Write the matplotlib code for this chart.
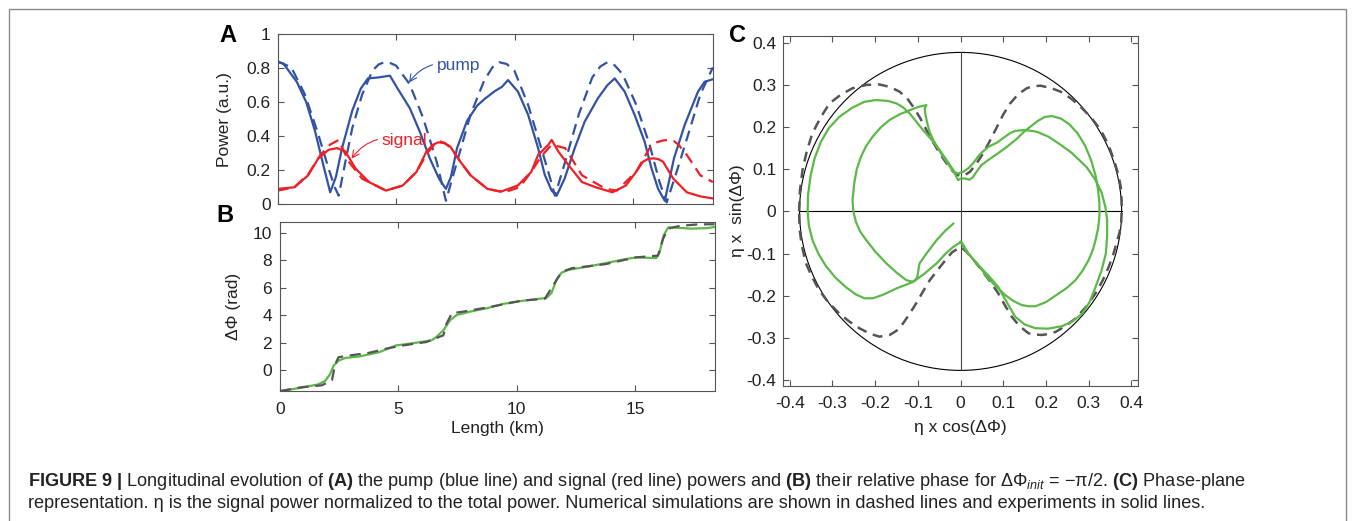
import numpy as np
import matplotlib
matplotlib.use("Agg")
import matplotlib.pyplot as plt
from matplotlib import patches
from matplotlib.ticker import FuncFormatter

plt.rcParams['font.family'] = ['Liberation Sans', 'DejaVu Sans']
plt.rcParams['mathtext.fontset'] = 'custom'
plt.rcParams['mathtext.rm'] = 'Liberation Sans'
plt.rcParams['mathtext.it'] = 'Liberation Sans:italic'
plt.rcParams['mathtext.bf'] = 'Liberation Sans:bold'

# ---- panel A: pump / signal power vs length (km) ----
pump_exp_km = [0, 0.23, 0.8, 1.2, 1.57, 1.92, 2.21, 2.45, 2.71, 3.14, 3.5, 3.8, 4.2, 4.73, 5.01,
               5.57, 5.99, 6.41, 6.8, 7.09, 7.3, 7.56, 7.98, 8.41, 8.73, 9.15, 9.45, 9.71, 10.13, 10.56,
               10.98, 11.26, 11.55, 11.76, 12.1, 12.52, 12.94, 13.5, 13.9, 14.21, 14.63, 15.05, 15.47,
               15.76, 16.04, 16.32, 16.71, 17.16, 17.72, 18.0, 18.35]
pump_exp = [0.835, 0.828, 0.72, 0.6, 0.43, 0.23, 0.07, 0.16, 0.33, 0.55, 0.68, 0.74, 0.745, 0.756, 0.69,
            0.564, 0.426, 0.27, 0.15, 0.09, 0.16, 0.33, 0.49, 0.58, 0.62, 0.665, 0.69, 0.73, 0.662, 0.525,
            0.329, 0.172, 0.08, 0.05, 0.152, 0.329, 0.485, 0.623, 0.7, 0.74, 0.662, 0.525, 0.368,
            0.211, 0.09, 0.02, 0.27, 0.466, 0.662, 0.72, 0.735]

pump_sim_km = [0, 0.57, 1.14, 1.71, 2.14, 2.4, 2.57, 2.85, 3.14, 3.56, 3.99, 4.25, 4.49, 4.75, 4.99, 5.56,
               6.13, 6.7, 7.09, 7.56, 8.13, 8.7, 9.05, 9.34, 9.65, 9.98, 10.55, 10.98, 11.41, 11.69, 12.12,
               12.69, 13.26, 13.6, 13.9, 14.2, 14.54, 15.11, 15.68, 16.1, 16.4, 16.82, 17.39, 17.82, 18.35]
pump_sim = [0.84, 0.805, 0.646, 0.41, 0.21, 0.1, 0.05, 0.25, 0.447, 0.646, 0.785, 0.822, 0.835, 0.83, 0.815,
            0.706, 0.507, 0.25, 0.02, 0.25, 0.527, 0.726, 0.805, 0.835, 0.825, 0.785, 0.587, 0.39, 0.19,
            0.05, 0.25, 0.527, 0.745, 0.81, 0.835, 0.818, 0.765, 0.587, 0.35, 0.13, 0.01, 0.19, 0.447,
            0.646, 0.805]

sig_exp_km = [0, 0.71, 1.28, 1.71, 2.14, 2.5, 2.85, 3.28, 3.85, 4.56, 5.27, 5.85, 6.27, 6.55, 6.77, 7.0,
              7.27, 7.7, 8.13, 8.84, 9.41, 10.12, 10.69, 10.98, 11.41, 11.55, 11.83, 12.26, 12.83, 13.4,
              14.11, 14.68, 15.11, 15.4, 15.6, 15.83, 16.05, 16.25, 16.68, 17.25, 17.82, 18.35]
sig_exp = [0.09, 0.1, 0.17, 0.27, 0.32, 0.33, 0.31, 0.21, 0.13, 0.08, 0.11, 0.19, 0.31, 0.35, 0.364, 0.36,
           0.34, 0.25, 0.17, 0.09, 0.074, 0.11, 0.19, 0.29, 0.35, 0.378, 0.31, 0.23, 0.13, 0.1,
           0.07, 0.11, 0.19, 0.25, 0.265, 0.27, 0.265, 0.25, 0.15, 0.07, 0.046, 0.034]

sig_sim_km = [0, 0.7, 1.3, 1.8, 2.2, 2.57, 2.99, 3.56, 4.56, 5.27, 5.85, 6.3, 6.6, 6.84, 7.05, 7.3, 7.7,
              8.13, 8.84, 9.55, 10.2, 10.69, 11.1, 11.55, 12.12, 12.83, 13.83, 14.3, 15.11, 15.68, 16.0,
              16.25, 16.47, 16.7, 16.9, 17.25, 17.82, 18.35]
sig_sim = [0.08, 0.1, 0.18, 0.29, 0.35, 0.378, 0.25, 0.15, 0.08, 0.11, 0.19, 0.3, 0.35, 0.37, 0.36, 0.33,
           0.25, 0.17, 0.09, 0.07, 0.1, 0.19, 0.28, 0.35, 0.33, 0.17, 0.09, 0.08, 0.19, 0.33, 0.365,
           0.375, 0.378, 0.372, 0.35, 0.29, 0.17, 0.13]

# ---- panel B: relative phase (rad) ----
ph_exp_km = [0, 0.9, 1.61, 1.9, 2.11, 2.26, 2.47, 2.76, 3.33, 4.19, 4.9, 5.76, 6.4, 6.61, 6.9,
             7.19, 7.47, 8.04, 8.76, 9.47, 10.19, 10.9, 11.26, 11.47, 11.69, 11.9, 12.19, 13.04, 13.76,
             14.47, 15.04, 15.9, 16.04, 16.21, 16.4, 16.61, 17.33, 18.04, 18.36]
ph_exp = [-1.53, -1.28, -1.04, -0.79, -0.3, 0.32, 0.69, 0.89, 0.99, 1.31, 1.8, 2.0, 2.17, 2.42, 2.91,
          3.65, 4.02, 4.27, 4.52, 4.84, 5.04, 5.19, 5.26, 5.63, 6.62, 7.11, 7.31, 7.56, 7.8,
          8.05, 8.22, 8.17, 8.59, 9.83, 10.4, 10.4, 10.32, 10.35, 10.44]

ph_sim_km = [0, 0.9, 1.76, 2.19, 2.33, 2.47, 2.9, 3.76, 4.47, 5.19, 6.19, 6.9, 7.04, 7.26, 7.76,
             8.76, 10.19, 11.19, 11.61, 11.9, 12.33, 13.76, 15.04, 15.97, 16.19, 16.4, 16.9, 17.61, 18.36]
ph_sim = [-1.53, -1.25, -1.11, -0.74, 0.44, 0.94, 1.06, 1.26, 1.56, 1.8, 2.05, 2.54, 3.41, 4.15, 4.27,
          4.57, 5.06, 5.21, 6.37, 7.16, 7.43, 7.73, 8.22, 8.35, 9.58, 10.32, 10.52, 10.62, 10.64]

# ---- panel C: phase plane (eta*cos, eta*sin) ----
pp_exp_x = [0.0, 0.008, 0.018, 0.041, 0.065, 0.085, 0.104, 0.123, 0.143, 0.16, 0.175, 0.2, 0.222, 0.248,
            0.269, 0.286, 0.3, 0.31, 0.316, 0.322, 0.325, 0.325, 0.322, 0.316, 0.306, 0.292, 0.274, 0.254,
            0.235, 0.214, 0.197, 0.18, 0.165, 0.151, 0.128, 0.108, 0.088, 0.065, 0.049, 0.036, 0.028, 0.02,
            0.01, 0.0, -0.006,
            -0.017, -0.033, -0.049, -0.068, -0.088, -0.104, -0.119, -0.135, -0.15, -0.17, -0.198, -0.225,
            -0.255, -0.284, -0.308, -0.327, -0.342, -0.351, -0.357, -0.358, -0.355, -0.346, -0.333, -0.315,
            -0.293, -0.268, -0.245, -0.225, -0.205, -0.18, -0.151, -0.128, -0.111, -0.085, -0.056, -0.035,
            -0.017, 0.002,
            0.018, 0.041, 0.065, 0.088, 0.108, 0.128, 0.15, 0.175, 0.205, 0.238, 0.263, 0.285, 0.302, 0.316,
            0.33, 0.34, 0.343, 0.343, 0.339, 0.33, 0.316, 0.295, 0.261, 0.234, 0.206, 0.178, 0.151, 0.128,
            0.115, 0.104, 0.085, 0.065, 0.052, 0.041, 0.03, 0.018, 0.006, -0.006,
            -0.017, -0.029, -0.041, -0.053, -0.064, -0.073, -0.078, -0.082, -0.084, -0.08, -0.098, -0.119,
            -0.143, -0.166, -0.187, -0.206, -0.221, -0.233, -0.243, -0.249, -0.253, -0.251, -0.245, -0.235,
            -0.221, -0.2, -0.174, -0.15, -0.127, -0.111, -0.102, -0.1, -0.096, -0.08, -0.056, -0.035, -0.017]
pp_exp_y = [-0.072, -0.085, -0.1, -0.127, -0.159, -0.18, -0.198, -0.212, -0.222, -0.225, -0.225, -0.215, -0.2,
            -0.182, -0.163, -0.14, -0.115, -0.09, -0.068, -0.04, -0.01, 0.02, 0.05, 0.085, 0.12, 0.155,
            0.185, 0.207, 0.22, 0.226, 0.224, 0.214, 0.202, 0.191, 0.169, 0.153, 0.138, 0.122, 0.11, 0.092,
            0.08, 0.075, 0.078, 0.078, 0.074,
            0.098, 0.122, 0.145, 0.17, 0.193, 0.213, 0.232, 0.247, 0.256, 0.262, 0.264, 0.26,
            0.245, 0.224, 0.198, 0.165, 0.125, 0.085, 0.04, 0.0, -0.035, -0.07, -0.1, -0.13,
            -0.157, -0.18, -0.197, -0.206, -0.206, -0.197, -0.183, -0.174, -0.167, -0.148, -0.123, -0.1,
            -0.084, -0.072,
            -0.1, -0.127, -0.152, -0.179, -0.215, -0.25, -0.268, -0.277, -0.278, -0.272, -0.26, -0.242,
            -0.215, -0.179, -0.14, -0.1, -0.06, -0.02, 0.01, 0.045, 0.074, 0.105, 0.138, 0.158, 0.177,
            0.189, 0.193, 0.191, 0.185, 0.177, 0.163, 0.153, 0.142, 0.13, 0.115, 0.102, 0.094, 0.09,
            0.094, 0.112, 0.13, 0.15, 0.169, 0.19, 0.209, 0.228, 0.244, 0.252, 0.248, 0.24,
            0.23, 0.217, 0.199, 0.177, 0.155, 0.13, 0.1, 0.066, 0.027, 0.0, -0.025, -0.048,
            -0.068, -0.095, -0.123, -0.145, -0.163, -0.167, -0.158, -0.147, -0.123, -0.1, -0.068, -0.045,
            -0.029]

pp_sim_x = [-0.378, -0.376, -0.37, -0.36, -0.347, -0.328, -0.307, -0.28, -0.253, -0.22, -0.19, -0.165,
            -0.143, -0.125, -0.111, -0.095, -0.08, -0.065, -0.049, -0.033, -0.017, -0.008, 0.0, 0.01,
            0.022, 0.037, 0.053, 0.069, 0.085, 0.1, 0.116, 0.135, 0.155, 0.17, 0.187, 0.21, 0.234, 0.258,
            0.281, 0.306, 0.328, 0.346, 0.359, 0.369, 0.375, 0.377, 0.377,
            0.376, 0.372, 0.367, 0.358, 0.347, 0.333, 0.316, 0.294, 0.269, 0.245, 0.222, 0.205, 0.19,
            0.175, 0.159, 0.138, 0.12, 0.104, 0.088, 0.069, 0.049, 0.027, 0.012, 0.0,
            -0.02, -0.035, -0.053, -0.072, -0.088, -0.104, -0.12, -0.135, -0.15, -0.166, -0.19, -0.212,
            -0.237, -0.262, -0.284, -0.31, -0.331, -0.348, -0.362, -0.372, -0.377, -0.378]
pp_sim_y = [0.0, 0.05, 0.098, 0.143, 0.185, 0.222, 0.256, 0.277, 0.292, 0.3, 0.301, 0.295,
            0.284, 0.268, 0.248, 0.222, 0.193, 0.165, 0.138, 0.114, 0.094, 0.087, 0.084, 0.086,
            0.094, 0.113, 0.138, 0.168, 0.2, 0.23, 0.256, 0.278, 0.292, 0.297, 0.298, 0.293, 0.284, 0.268,
            0.248, 0.222, 0.193, 0.158, 0.122, 0.088, 0.058, 0.025, 0.0,
            -0.025, -0.05, -0.068, -0.1, -0.131, -0.163, -0.194, -0.226, -0.254, -0.272, -0.286, -0.291, -0.293,
            -0.292, -0.289, -0.272, -0.25, -0.223, -0.194, -0.166, -0.139, -0.111, -0.094, -0.084,
            -0.097, -0.115, -0.138, -0.163, -0.19, -0.218, -0.244, -0.266, -0.283, -0.293, -0.297, -0.29,
            -0.277, -0.26, -0.242, -0.215, -0.187, -0.155, -0.123, -0.08, -0.04, 0.0]
pp_radius = 0.377

blue = '#3452a4'
red = '#ee2026'
green = '#5cb848'
gray = '#555555'
spine = '#555555'
txt = '#222222'
fs = 12.5

W, H = 1355, 521
fig = plt.figure(figsize=(W / 100, H / 100), dpi=100)


def px_axes(l, t, r, b):
    return fig.add_axes([l / W, 1 - b / H, (r - l) / W, (b - t) / H])


def style(ax, xpad=8, ypad=6):
    for s in ax.spines.values():
        s.set_color(spine)
        s.set_linewidth(0.8)
    ax.tick_params(direction='in', length=4, width=0.8, color=spine, top=True, right=True,
                   labelsize=fs, labelcolor=txt)
    ax.tick_params(axis='x', pad=xpad)
    ax.tick_params(axis='y', pad=ypad)


axA = px_axes(277.8, 34.2, 712.9, 204.2)
axA.plot(pump_exp_km, pump_exp, color=blue, lw=1.6)
axA.plot(pump_sim_km, pump_sim, color=blue, lw=1.6, ls=(0, (5, 3)))
axA.plot(sig_exp_km, sig_exp, color=red, lw=1.6)
axA.plot(sig_sim_km, sig_sim, color=red, lw=1.6, ls=(0, (5, 3)))
axA.set_xlim(0, 18.35)
axA.set_ylim(0, 1)
axA.set_xticks([0, 5, 10, 15])
axA.set_xticklabels([])
axA.set_yticks([0, 0.2, 0.4, 0.6, 0.8, 1])
axA.set_yticklabels(['0', '0.2', '0.4', '0.6', '0.8', '1'])
axA.set_ylabel('Power (a.u.)', fontsize=fs, color=txt)
axA.yaxis.set_label_coords(-0.105, 0.5)
style(axA, ypad=5)
axA.annotate('pump', xy=(5.53, 0.716), xytext=(6.7, 0.815), color=blue, fontsize=fs,
             ha='left', va='center',
             arrowprops=dict(arrowstyle='->', color=blue, lw=0.8, shrinkA=1, shrinkB=0,
                             connectionstyle='arc3,rad=0.35'))
axA.annotate('signal', xy=(3.11, 0.268), xytext=(4.38, 0.374), color=red, fontsize=fs,
             ha='left', va='center',
             arrowprops=dict(arrowstyle='->', color=red, lw=0.8, shrinkA=1, shrinkB=0,
                             connectionstyle='arc3,rad=0.35'))

axB = px_axes(280.1, 222, 714.5, 391.1)
axB.plot(ph_exp_km, ph_exp, color=green, lw=1.6)
axB.plot(ph_sim_km, ph_sim, color=gray, lw=1.6, ls=(0, (5, 3)))
axB.set_xlim(0, 18.36)
axB.set_ylim(-1.53, 10.8)
axB.set_xticks([0, 5, 10, 15])
axB.set_yticks([0, 2, 4, 6, 8, 10])
axB.set_xlabel('Length (km)', fontsize=fs, color=txt, labelpad=3)
axB.set_ylabel('ΔΦ (rad)', fontsize=fs, color=txt)
axB.yaxis.set_label_coords(-0.0905, 0.5)
style(axB)

axC = px_axes(783.3, 35.7, 1138.3, 386)
axC.add_patch(patches.Circle((0, 0), pp_radius, fill=False, ec='black', lw=0.8))
axC.plot([-pp_radius, pp_radius], [0, 0], color='black', lw=0.8)
axC.plot([0, 0], [-pp_radius, pp_radius], color='#444444', lw=0.8)
axC.plot(pp_sim_x, pp_sim_y, color=gray, lw=1.8, ls=(0, (4, 2.7)))
axC.plot(pp_exp_x, pp_exp_y, color=green, lw=1.6)
axC.set_xlim(-0.415, 0.416)
axC.set_ylim(-0.414, 0.4166)
cticks = [-0.4, -0.3, -0.2, -0.1, 0, 0.1, 0.2, 0.3, 0.4]
axC.set_xticks(cticks)
axC.set_yticks(cticks)
fmt = FuncFormatter(lambda v, p: '0' if abs(v) < 1e-9 else ('%.1f' % v))
axC.xaxis.set_major_formatter(fmt)
axC.yaxis.set_major_formatter(fmt)
axC.set_xlabel('η x cos(ΔΦ)', fontsize=fs, color=txt, labelpad=6.5)
axC.set_ylabel('η x  sin(ΔΦ)', fontsize=fs, color=txt)
axC.yaxis.set_label_coords(-0.108, 0.5)
style(axC, xpad=7, ypad=5)

# panel letters
fig.text(227.7 / W, 1 - 35 / H, 'A', fontsize=17, fontweight='bold', ha='center', va='center')
fig.text(225.4 / W, 1 - 215 / H, 'B', fontsize=17, fontweight='bold', ha='center', va='center')
fig.text(737 / W, 1 - 35 / H, 'C', fontsize=17, fontweight='bold', ha='center', va='center')

# caption box and text
fig.add_artist(patches.Rectangle((9 / W, -0.1), (1346 - 9) / W, 1 - 9 / H + 0.1,
                                 transform=fig.transFigure, fill=False, ec='#8a8a8a', lw=1))
line1 = (r'$\mathbf{FIGURE\ 9\ |}$ Longitudinal evolution of $\mathbf{(A)}$ the pump (blue line) and '
         r'signal (red line) powers and $\mathbf{(B)}$ their relative phase for '
         r'ΔΦ$_{\mathit{init}}$ = −π/2. $\mathbf{(C)}$ Phase-plane')
line2 = ('representation. η is the signal power normalized to the total power. Numerical simulations '
         'are shown in dashed lines and experiments in solid lines.')
fig.text(28 / W, 1 - 481 / H, line1, fontsize=13.05, ha='left', va='center', color=txt)
fig.text(28 / W, 1 - 504 / H, line2, fontsize=13.05, ha='left', va='center', color=txt)

fig.savefig('out.png', dpi=100)
